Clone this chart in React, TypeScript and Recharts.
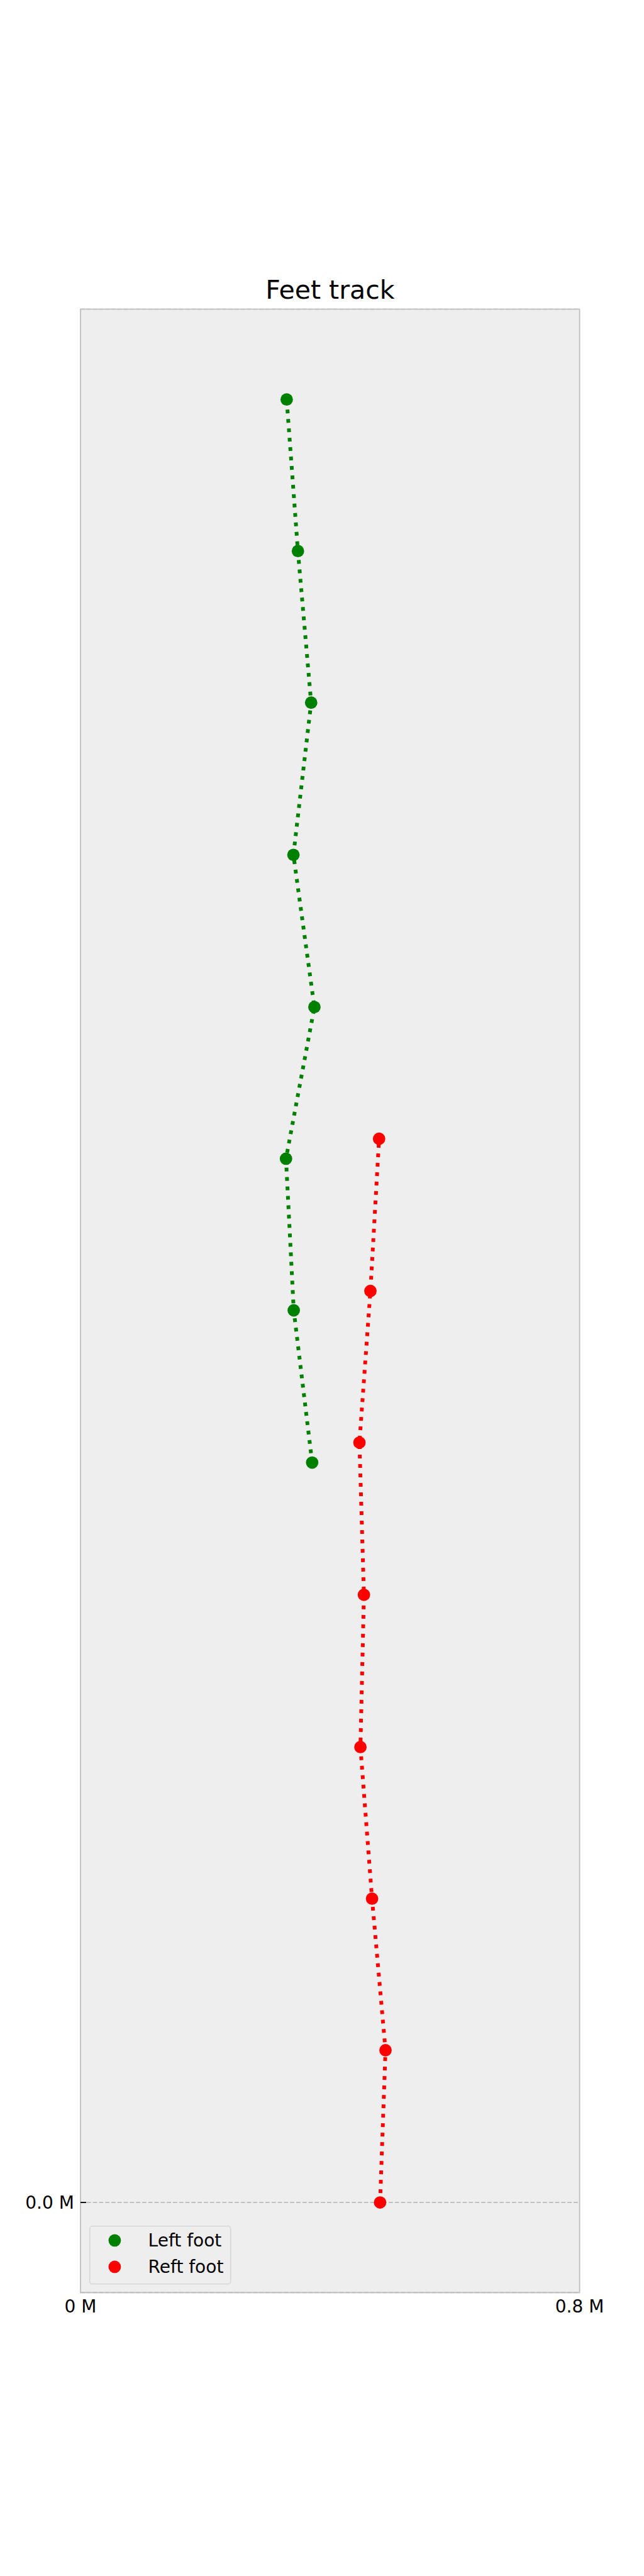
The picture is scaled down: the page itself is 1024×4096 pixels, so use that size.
import React from 'react';
import { ScatterChart, Scatter, XAxis, YAxis, CartesianGrid, ReferenceArea, Legend } from 'recharts';

const FONT = '"DejaVu Sans", "Liberation Sans", sans-serif';

// Tick definitions
const xTicks = [0, 0.8];
const xTickLabels = ['0 M', '0.8 M'];
const yTicks = [0];
const yTickLabels = ['0.0 M'];

// Series (ordered from the start of the track upward)
const seriesNames = ['Left foot', 'Reft foot'];
const seriesColors = ['#008000', '#ff0000'];

const leftFootX = [0.3713, 0.3418, 0.3294, 0.3749, 0.3413, 0.3697, 0.3485, 0.3305];
const leftFootY = [1.186, 1.430, 1.673, 1.916, 2.160, 2.404, 2.647, 2.890];

const rightFootX = [0.4802, 0.4889, 0.4673, 0.4487, 0.4543, 0.4471, 0.4647, 0.4786];
const rightFootY = [0.0, 0.244, 0.487, 0.730, 0.974, 1.218, 1.461, 1.705];

const xDomain = [0, 0.8];
const yDomain = [-0.1445, 3.0348];

const leftData = leftFootX.map((x, i) => ({ x, y: leftFootY[i] }));
const rightData = rightFootX.map((x, i) => ({ x, y: rightFootY[i] }));

const W = 1024;
const H = 4096;
const PLOT_LEFT = 128;
const PLOT_TOP = 491.5;
const PLOT_RIGHT = 921.6;
const PLOT_BOTTOM = 3645.4;
const Y_AXIS_W = 60;
const X_AXIS_H = 30;

const XTick = (props: any) => {
  const { x, y, payload } = props;
  const idx = xTicks.indexOf(payload.value);
  const label = idx >= 0 ? xTickLabels[idx] : String(payload.value);
  return (
    <text x={x} y={y + 31.6} textAnchor="middle" fontSize={28} fontFamily={FONT} fill="#000">
      {label}
    </text>
  );
};

const YTick = (props: any) => {
  const { x, y, payload } = props;
  const idx = yTicks.indexOf(payload.value);
  const label = idx >= 0 ? yTickLabels[idx] : String(payload.value);
  return (
    <g>
      <line x1={x} y1={y} x2={x + 9} y2={y} stroke="#000" strokeWidth={1.8} />
      <text x={x - 10.2} y={y + 10.2} textAnchor="end" fontSize={28} fontFamily={FONT} fill="#000">
        {label}
      </text>
    </g>
  );
};

const dotShape = (color: string) => (props: any) => (
  <circle cx={props.cx} cy={props.cy} r={9.9} fill={color} />
);

const LegendBox = () => (
  <svg width={226} height={94} style={{ display: 'block', overflow: 'visible' }}>
    <rect x={0.7} y={0.7} width={224} height={92} rx={4} ry={4} fill="#eeeeee" stroke="#d2d2d2" strokeWidth={1.3} />
    {seriesNames.map((name, i) => (
      <g key={name}>
        <circle cx={40.4} cy={23.4 + i * 42} r={9.9} fill={seriesColors[i]} />
        <text x={93.6} y={33.4 + i * 41.7} fontSize={28} fontFamily={FONT} fill="#000">
          {name}
        </text>
      </g>
    ))}
  </svg>
);

export default function App() {
  return (
    <div style={{ position: 'absolute', left: 0, top: 0, width: W, height: H, background: '#ffffff' }}>
      <ScatterChart
        width={W}
        height={H}
        margin={{
          top: PLOT_TOP,
          right: W - PLOT_RIGHT,
          left: PLOT_LEFT - Y_AXIS_W,
          bottom: H - PLOT_BOTTOM - X_AXIS_H,
        }}
      >
        <CartesianGrid
          fill="#eeeeee"
          vertical={false}
          horizontal={true}
          stroke="#b2b2b2"
          strokeDasharray="6.8 3"
          strokeWidth={1.6}
        />
        <XAxis
          type="number"
          dataKey="x"
          domain={xDomain}
          ticks={xTicks}
          interval={0}
          allowDataOverflow
          height={X_AXIS_H}
          axisLine={false}
          tickLine={false}
          tickSize={0}
          tickMargin={0}
          tick={<XTick />}
        />
        <YAxis
          type="number"
          dataKey="y"
          domain={yDomain}
          ticks={yTicks}
          interval={0}
          allowDataOverflow
          width={Y_AXIS_W}
          axisLine={false}
          tickLine={false}
          tickSize={0}
          tickMargin={0}
          tick={<YTick />}
        />
        <ReferenceArea
          x1={xDomain[0]}
          x2={xDomain[1]}
          y1={yDomain[0]}
          y2={yDomain[1]}
          fill="none"
          fillOpacity={0}
          stroke="#bcbcbc"
          strokeWidth={1.7}
          ifOverflow="visible"
        />
        <Scatter
          name={seriesNames[0]}
          data={leftData}
          fill={seriesColors[0]}
          line={{ stroke: seriesColors[0], strokeWidth: 6, strokeDasharray: '6 9' }}
          lineType="joint"
          shape={dotShape(seriesColors[0])}
          isAnimationActive={false}
        />
        <Scatter
          name={seriesNames[1]}
          data={rightData}
          fill={seriesColors[1]}
          line={{ stroke: seriesColors[1], strokeWidth: 6, strokeDasharray: '6 9' }}
          lineType="joint"
          shape={dotShape(seriesColors[1])}
          isAnimationActive={false}
        />
        <Legend
          layout="vertical"
          align="center"
          verticalAlign="middle"
          wrapperStyle={{ left: 142, top: 3538.6, width: 226, height: 94 }}
          content={() => <LegendBox />}
        />
      </ScatterChart>
      <svg
        width={W}
        height={500}
        style={{ position: 'absolute', left: 0, top: 0, pointerEvents: 'none' }}
      >
        <text x={524.8} y={474.5} textAnchor="middle" fontSize={41} fontFamily={FONT} fill="#000">
          Feet track
        </text>
      </svg>
    </div>
  );
}
